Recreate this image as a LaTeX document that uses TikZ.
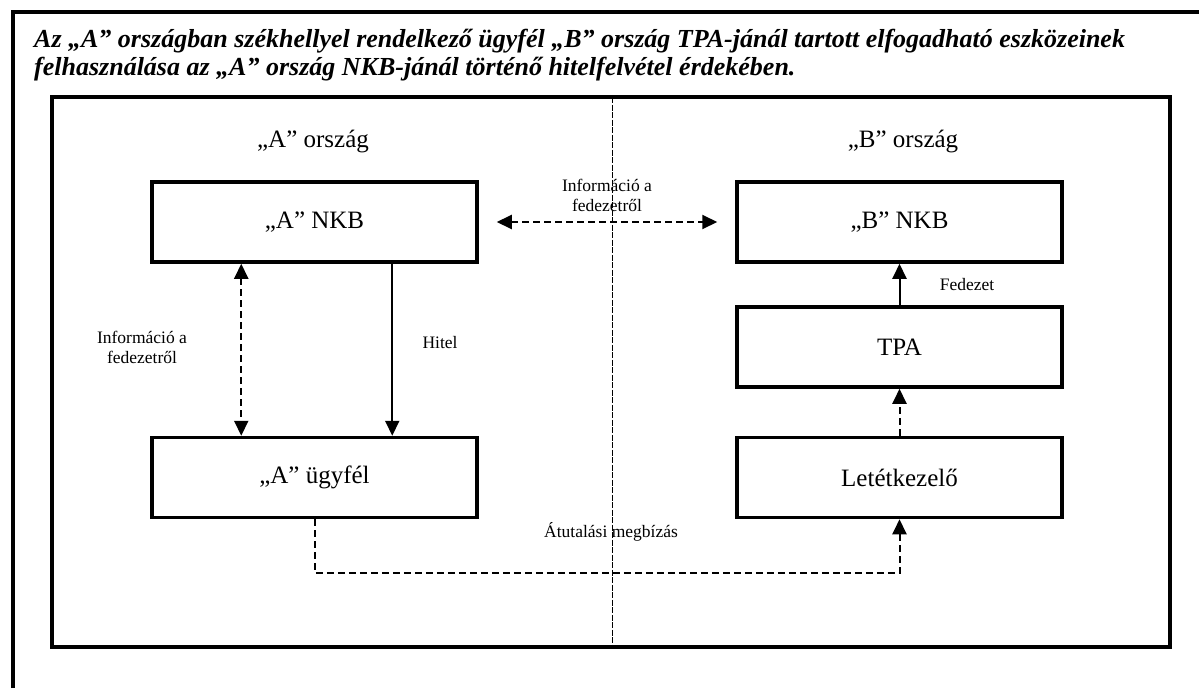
\documentclass[tikz,border=0pt]{standalone}
\usepackage{fontspec}
\setmainfont{Liberation Serif}
\usetikzlibrary{arrows.meta,calc}
\begin{document}
\begin{tikzpicture}[x=1pt,y=-1pt,
  frame/.style={line width=3.5pt},
  box/.style={draw,line width=3.5pt,minimum width=325pt,minimum height=80pt,inner sep=0pt,font=\fontsize{25}{29}\selectfont},
  cname/.style={font=\fontsize{25}{29}\selectfont},
  lbl/.style={font=\fontsize{17.5}{20}\selectfont,align=center,inner sep=0pt},
  conn/.style={line width=2pt,-{Triangle[length=15pt,width=14pt]}},
  both/.style={line width=2pt,{Triangle[length=15pt,width=14pt]}-{Triangle[length=15pt,width=14pt]}},
  dsh/.style={dash pattern=on 7pt off 4pt},
  title/.style={font=\fontsize{26}{28}\selectfont\bfseries\itshape,align=left,inner sep=0pt,anchor=west}
]
\useasboundingbox (0,0) rectangle (1199,688);
\fill[white] (0,0) rectangle (1199,688);
% outer frame
\draw[frame] (13,688) -- (13,12) -- (1199,12);
% inner frame
\draw[frame] (52,97) rectangle (1170,647);
% divider
\coordinate (dt) at (612,97);
\coordinate (db) at (612,647);
\draw[line width=0.9pt,dash pattern=on 6pt off 1.5pt] (dt) -- (db);
% title
\node[title] (ttl) at (34,55) {Az „A” országban székhellyel rendelkező ügyfél „B” ország TPA-jánál tartott elfogadható eszközeinek\\felhasználása az „A” ország NKB-jánál történő hitelfelvétel érdekében.};
% country labels
\node[cname] (ca) at (313,142) {„A” ország};
\node[cname] (cb) at (903,142) {„B” ország};
% boxes
\node[box] (anb) at (314.5,222) {„A” NKB};
\node[box] (bnb) at (899.5,222) {„B” NKB};
\node[box] (tpa) at (899.5,347) {TPA};
\node[box] (let) at (899.5,477.5) {Letétkezelő};
\node[box] (aug) at (314.5,477.5) {„A” ügyfél};
% connectors
\draw[both,dsh,shorten <=18pt,shorten >=18pt] (anb.east) -- (bnb.west);
\node[lbl] (l1) at (607,195) {Információ a\\fedezetről};
\draw[both,dsh] ($(anb.south west)+(91,0)$) -- ($(aug.north west)+(91,0)$);
\node[lbl] (l2) at (142,347) {Információ a\\fedezetről};
\draw[conn] ($(anb.south west)+(242,0)$) -- ($(aug.north west)+(242,0)$);
\node[lbl] (l3) at (440,343) {Hitel};
\draw[conn] (tpa.north) -- (bnb.south);
\node[lbl] (l4) at (967,285) {Fedezet};
\draw[conn,dsh] (let.north) -- (tpa.south);
\coordinate (rl) at (314.5,573);
\coordinate (rr) at (899.5,573);
\draw[conn,dsh] (aug.south) -- (rl) -- (rr) -- (let.south);
\node[lbl] (l5) at (611,532) {Átutalási megbízás};
\end{tikzpicture}
\end{document}
